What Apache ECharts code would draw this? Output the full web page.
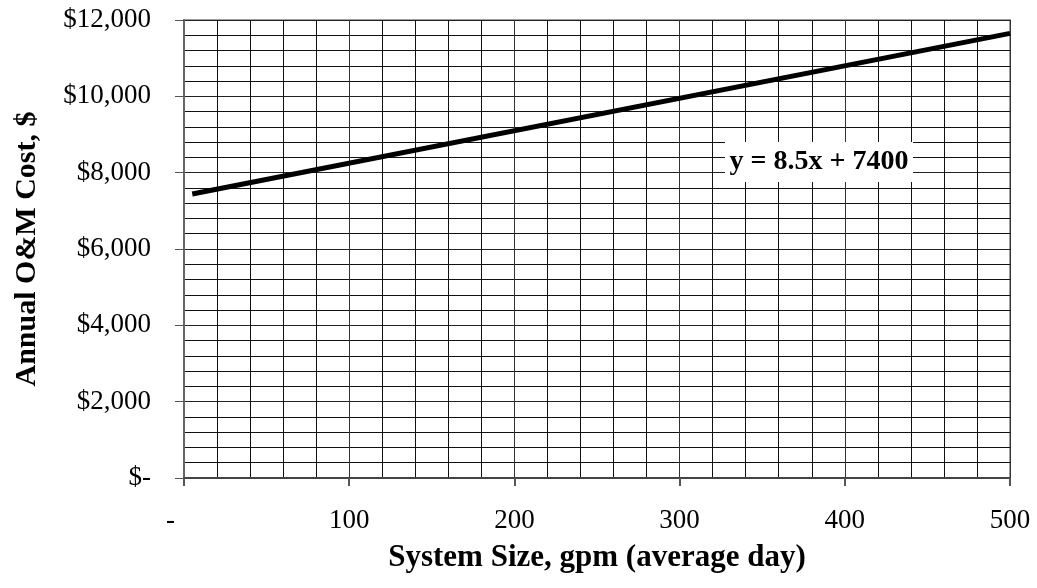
<!DOCTYPE html>
<html>
<head>
<meta charset="utf-8">
<script src="https://cdn.jsdelivr.net/npm/echarts@6/dist/echarts.min.js"></script>
<style>
  html, body { margin: 0; padding: 0; background: #fff; }
  #main { width: 1037px; height: 588px; }
</style>
</head>
<body>
<div id="main"></div>
<script>
// system size (gpm) and annual O&M cost
var sizes = [5, 500]
var costs = [7443, 11650]
var xTicks = [0, 100, 200, 300, 400, 500]
var yTicks = [0, 2000, 4000, 6000, 8000, 10000, 12000]
var equation = 'y = 8.5x + 7400'

var font = 'Liberation Serif'

function money(v) {
  if (v === 0) return '$-'
  return '$' + v.toLocaleString('en-US')
}

var chart = echarts.init(document.getElementById('main'))
var option = {
  animation: false,
  grid: {
    left: 184,
    right: 27,
    top: 20,
    bottom: 110,
    show: true,
    borderColor: '#a0a0a0',
    borderWidth: 2
  },
  xAxis: {
    type: 'value',
    min: 0,
    max: 500,
    interval: 100,
    name: 'System Size, gpm (average day)',
    nameLocation: 'middle',
    nameGap: 64,
    nameTextStyle: { fontFamily: font, fontSize: 31, fontWeight: 'bold', color: '#000' },
    axisLine: { show: true, lineStyle: { color: '#444', width: 2 } },
    axisTick: { show: true, inside: false, length: 8, lineStyle: { color: '#555', width: 2 } },
    axisLabel: {
      fontFamily: font, fontSize: 27, color: '#000', margin: 29,
      formatter: function(v) { return v === 0 ? '-    ' : String(v) }
    },
    splitLine: { show: true, lineStyle: { color: '#333', width: 1 } },
    minorTick: { show: false, splitNumber: 5 },
    minorSplitLine: { show: true, lineStyle: { color: '#111', width: 1 } }
  },
  yAxis: {
    type: 'value',
    min: 0,
    max: 12000,
    interval: 2000,
    name: 'Annual O&M Cost, $',
    nameLocation: 'middle',
    nameGap: 142,
    nameTextStyle: { fontFamily: font, fontSize: 30, fontWeight: 'bold', color: '#000' },
    axisLine: { show: true, lineStyle: { color: '#666', width: 2 } },
    axisTick: { show: true, inside: false, length: 9, lineStyle: { color: '#555', width: 1 } },
    axisLabel: {
      fontFamily: font, fontSize: 27, color: '#000', margin: 33,
      formatter: money
    },
    splitLine: { show: true, lineStyle: { color: '#222', width: 1 } },
    minorTick: { show: false, splitNumber: 5 },
    minorSplitLine: { show: true, lineStyle: { color: '#111', width: 1 } }
  },
  series: [
    {
      type: 'line',
      data: sizes.map(function(s, i) { return [s, costs[i]] }),
      symbol: 'none',
      lineStyle: { color: '#000', width: 5 }
    }
  ],
  graphic: [
    {
      type: 'rect',
      left: 725,
      top: 142,
      z: 100,
      shape: { width: 188, height: 40 },
      style: { fill: '#fff' }
    },
    {
      type: 'text',
      x: 819,
      y: 162,
      z: 101,
      style: {
        text: equation,
        fontFamily: font,
        fontSize: 28,
        fontWeight: 'bold',
        fill: '#000',
        align: 'center',
        verticalAlign: 'middle'
      }
    }
  ]
}
chart.setOption(option)
</script>
</body>
</html>
